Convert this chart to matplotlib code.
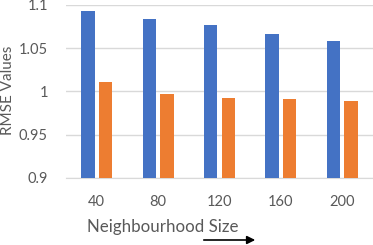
import matplotlib
matplotlib.use("Agg")
import numpy as np
import matplotlib.pyplot as plt

# values
sizes = ["40", "80", "120", "160", "200"]
rmse_blue = [1.093, 1.0835, 1.077, 1.067, 1.058]
rmse_orange = [1.0115, 0.997, 0.993, 0.991, 0.9895]
y_ticks = [0.9, 0.95, 1.0, 1.05, 1.1]
y_tick_labels = ["0.9", "0.95", "1", "1.05", "1.1"]

plt.rcParams['font.family'] = ['Lato', 'DejaVu Sans']
text_grey = '#595959'

fig = plt.figure(figsize=(3.73, 2.45), dpi=100)
ax = fig.add_axes([66 / 373, 1 - 178 / 245, 1 - 66 / 373, 173 / 245])

x = np.arange(len(sizes))
width = 0.22
ax.bar(x - 0.143, rmse_blue, width, color='#4472C4', zorder=3)
ax.bar(x + 0.143, rmse_orange, width, color='#ED7D31', zorder=3)

ax.set_xlim(-0.5, len(sizes) - 0.5)
ax.set_ylim(0.9, 1.1)
ax.set_yticks(y_ticks)
ax.set_yticklabels(y_tick_labels)
ax.set_xticks(x)
ax.set_xticklabels(sizes)
ax.tick_params(axis='y', length=0, pad=13, labelsize=10.5, labelcolor=text_grey)
ax.tick_params(axis='x', length=0, pad=12, labelsize=10.5, labelcolor=text_grey)

ax.grid(True, axis='y', color='#D9D9D9', linewidth=1, zorder=0)
for side in ['top', 'right', 'left']:
    ax.spines[side].set_visible(False)
ax.spines['bottom'].set_color('#D9D9D9')

# axis titles placed by hand, like the reference
fig.text(8 / 373, 1 - 90 / 245, "RMSE Values", rotation=90, ha='center', va='center',
         fontsize=11, color=text_grey)
fig.text(163 / 373, 1 - 227 / 245, "Neighbourhood Size", ha='center', va='center',
         fontsize=12.2, color=text_grey)

# arrow under the x title
ax.annotate("", xy=(258 / 373, 1 - 240 / 245), xycoords='figure fraction',
            xytext=(201 / 373, 1 - 240 / 245), textcoords='figure fraction',
            arrowprops=dict(arrowstyle='-|>', color='black', lw=1.2, mutation_scale=12))

fig.savefig("out.png", dpi=100)
